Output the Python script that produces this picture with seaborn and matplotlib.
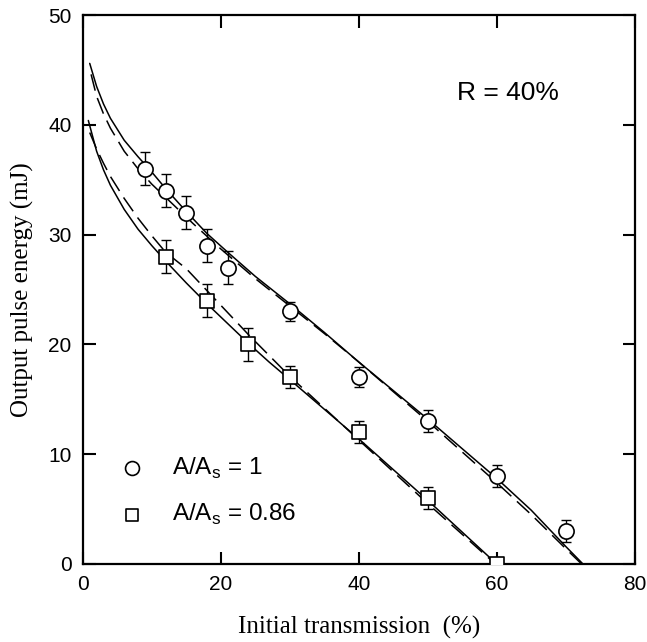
import numpy as np
import matplotlib
matplotlib.use("Agg")
import matplotlib.pyplot as plt
import seaborn as sns
import pandas as pd

# measured points, A/As = 1 (circles)
t1 = [9, 12, 15, 18, 21, 30, 40, 50, 60, 70]
e1 = [36, 34, 32, 29, 27, 23, 17, 13, 8, 3]
err1 = [1.5, 1.5, 1.5, 1.5, 1.5, 0.9, 0.9, 1.0, 1.0, 1.0]

# measured points, A/As = 0.86 (squares)
t2 = [12, 18, 24, 30, 40, 50, 60]
e2 = [28, 24, 20, 17, 12, 6, 0]
err2 = [1.5, 1.5, 1.5, 1.0, 1.0, 1.0, 0.0]

# theory curves
fit1_x = [1.0, 2, 3, 4, 6, 8, 10, 12, 15, 18, 21, 25, 30, 35, 40, 45, 50, 55, 60, 65, 70, 72.5]
fit1_y = [45.6, 43.5, 41.9, 40.6, 38.6, 37.1, 35.7, 34.2, 32.1, 30.1, 28.4, 26.2, 23.7,
          21.1, 18.4, 15.8, 13.2, 10.5, 7.8, 4.9, 1.6, 0]
fit1d_x = [1.2, 2, 3, 4, 6, 8, 10, 13, 16, 20, 25, 30, 35, 40, 45, 50, 55, 60, 65, 70, 72.3]
fit1d_y = [44.6, 42.6, 41.0, 39.7, 37.6, 36.0, 34.6, 32.8, 31.0, 28.7, 26.0, 23.5,
           21.0, 18.4, 15.7, 13.0, 10.2, 7.4, 4.5, 1.4, 0]
fit2_x = [0.8, 2, 3, 4, 6, 8, 10, 12, 15, 18, 21, 24, 27, 30, 35, 40, 45, 50, 55, 60]
fit2_y = [40.4, 37.6, 35.9, 34.5, 32.3, 30.5, 29.0, 27.6, 25.6, 23.7, 21.9, 20.1,
          18.4, 16.8, 14.1, 11.4, 8.6, 5.8, 2.9, 0]
fit2d_x = [1.0, 2, 3, 4, 6, 8, 10, 12, 15, 18, 21, 24, 27, 30, 35, 40, 45, 50, 55, 59.8]
fit2d_y = [39.3, 37.8, 36.5, 35.3, 33.3, 31.5, 29.9, 28.4, 26.9, 24.9, 22.9, 20.9,
           19.0, 17.1, 14.2, 11.3, 8.4, 5.5, 2.7, 0]

sns.set_style("ticks")
plt.rcParams["font.family"] = ["Liberation Sans", "DejaVu Sans"]
plt.rcParams.update({"text.color": "black", "axes.labelcolor": "black",
                     "xtick.color": "black", "ytick.color": "black",
                     "axes.edgecolor": "black"})

fig = plt.figure(figsize=(6.47, 6.42), dpi=100)
ax = fig.add_axes([0.128, 0.1215, 0.853, 0.855])

# curves
for xs, ys, ls in [(fit1_x, fit1_y, "-"), (fit1d_x, fit1d_y, "--"),
                   (fit2_x, fit2_y, "-"), (fit2d_x, fit2d_y, "--")]:
    df = pd.DataFrame({"x": xs, "y": ys})
    sns.lineplot(data=df, x="x", y="y", ax=ax, color="black", lw=1.1,
                 sort=False, estimator=None)
    if ls == "--":
        ax.lines[-1].set_dashes((11, 5))

# data with error bars
ax.errorbar(t1, e1, yerr=err1, fmt="none", ecolor="black", elinewidth=1.0,
            capsize=3.6, capthick=1.0)
ax.errorbar(t2, e2, yerr=err2, fmt="none", ecolor="black", elinewidth=1.0,
            capsize=3.6, capthick=1.0)
sns.scatterplot(x=t1, y=e1, ax=ax, marker="o", s=120, facecolor="white",
                edgecolor="black", linewidth=1.2, zorder=5)
sns.scatterplot(x=t2, y=e2, ax=ax, marker="s", s=90, facecolor="white",
                edgecolor="black", linewidth=1.2, zorder=5)

# legend drawn as in the original (inside the plot)
ax.scatter([7.1], [8.7], marker="o", s=100, facecolor="white", edgecolor="black", lw=1.2)
ax.scatter([7.1], [4.5], marker="s", s=80, facecolor="white", edgecolor="black", lw=1.2)
ax.text(12.9, 8.7, "A/A$_\\mathregular{s}$ = 1", fontsize=17.5, va="center")
ax.text(12.9, 4.5, "A/A$_\\mathregular{s}$ = 0.86", fontsize=17.5, va="center")

ax.text(54.2, 42.9, "R = 40%", fontsize=19, va="center")

ax.set_xlim(0, 80)
ax.set_ylim(0, 50)
ax.set_xticks([0, 20, 40, 60, 80])
ax.set_yticks([0, 10, 20, 30, 40, 50])
ax.tick_params(direction="in", length=9, width=1.5, labelsize=15,
               top=True, right=True, pad=8)
for sp in ax.spines.values():
    sp.set_linewidth(1.6)

ax.set_xlabel("Initial transmission  (%)", family="Liberation Serif", fontsize=18, labelpad=16)
ax.set_ylabel("Output pulse energy (mJ)", family="Liberation Serif", fontsize=18, labelpad=10)

fig.savefig("out.png", dpi=100)
